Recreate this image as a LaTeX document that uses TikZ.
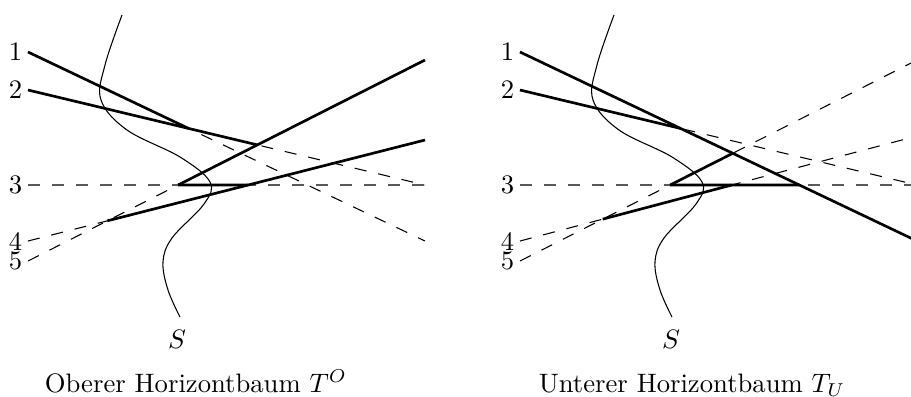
\documentclass[tikz,border=0pt]{standalone}
\usepackage{amsmath}
\usepackage{tikz}
\tikzstyle{treeline} = [line width=1pt]
\tikzstyle{pseudoline} = [line width=0.4pt, dash pattern=on 4.5pt off 4.5pt]
\tikzstyle{sweepline} = [line width=0.4pt]
\tikzstyle{lbl} = [left, inner xsep=2pt, inner ysep=0pt]

\begin{document}
\begin{tikzpicture}[x=0.375pt, y=-0.375pt]
    \useasboundingbox (0,0) rectangle (911,396);
    \clip (0,0) rectangle (911,396);

    % Oberer Horizontbaum
    \coordinate (oa1) at (28,52);  \coordinate (ob1) at (425,241);
    \coordinate (oa2) at (28,90);  \coordinate (ob2) at (425,185);
    \coordinate (oa3) at (28,185); \coordinate (ob3) at (425,185);
    \coordinate (oa4) at (28,241); \coordinate (ob4) at (425,140);
    \coordinate (oa5) at (28,261); \coordinate (ob5) at (425,60);
    \coordinate (ox12) at (intersection of oa1--ob1 and oa2--ob2);
    \coordinate (ox25) at (intersection of oa2--ob2 and oa5--ob5);
    \coordinate (ox35) at (intersection of oa3--ob3 and oa5--ob5);
    \coordinate (ox34) at (intersection of oa3--ob3 and oa4--ob4);
    \coordinate (ox45) at (intersection of oa4--ob4 and oa5--ob5);

    \node[lbl] (on1) at (oa1) {1};
    \node[lbl] (on2) at (oa2) {2};
    \node[lbl] (on3) at (oa3) {3};
    \node[lbl] (on4) at (oa4) {4};
    \node[lbl] (on5) at (oa5) {5};

    \draw[pseudoline] (oa1) -- (ob1);
    \draw[pseudoline] (oa2) -- (ob2);
    \draw[pseudoline, black!65] (oa3) -- (ob3);
    \draw[pseudoline] (oa4) -- (ob4);
    \draw[pseudoline] (oa5) -- (ob5);

    \draw[sweepline] plot[smooth, tension=0.6] coordinates {(122,15) (105,65) (101,100) (127,130) (180,157) (210,182) (204,204) (172,238) (163,262) (168,290) (180,317)};
    \node (os) at (177,339) {$S$};
    \node[anchor=base] (ocap) at (196,392) {Oberer Horizontbaum $T^O$};

    \draw[treeline] (oa1) -- (ox12);
    \draw[treeline] (oa2) -- (ox25);
    \draw[treeline] (ox35) -- (ox34);
    \draw[treeline] (ox45) -- (ob4);
    \draw[treeline] (ox35) -- (ob5);

    % Unterer Horizontbaum
    \begin{scope}[xshift=184.5pt]
    \coordinate (ua1) at (28,52);  \coordinate (ub1) at (425,241);
    \coordinate (ua2) at (28,90);  \coordinate (ub2) at (425,185);
    \coordinate (ua3) at (28,185); \coordinate (ub3) at (425,185);
    \coordinate (ua4) at (28,241); \coordinate (ub4) at (425,136);
    \coordinate (ua5) at (28,261); \coordinate (ub5) at (425,60);
    \coordinate (ux12) at (intersection of ua1--ub1 and ua2--ub2);
    \coordinate (ux13) at (intersection of ua1--ub1 and ua3--ub3);
    \coordinate (ux15) at (intersection of ua1--ub1 and ua5--ub5);
    \coordinate (ux35) at (intersection of ua3--ub3 and ua5--ub5);
    \coordinate (ux34) at (intersection of ua3--ub3 and ua4--ub4);
    \coordinate (ux45) at (intersection of ua4--ub4 and ua5--ub5);

    \node[lbl] (un1) at (ua1) {1};
    \node[lbl] (un2) at (ua2) {2};
    \node[lbl] (un3) at (ua3) {3};
    \node[lbl] (un4) at (ua4) {4};
    \node[lbl] (un5) at (ua5) {5};

    \draw[pseudoline] (ua1) -- (ub1);
    \draw[pseudoline] (ua2) -- (ub2);
    \draw[pseudoline, black!65] (ua3) -- (ub3);
    \draw[pseudoline] (ua4) -- (ub4);
    \draw[pseudoline] (ua5) -- (ub5);

    \draw[sweepline] plot[smooth, tension=0.6] coordinates {(122,15) (105,65) (101,100) (127,130) (180,157) (210,182) (204,204) (172,238) (163,262) (168,290) (180,317)};
    \node (us) at (179,339) {$S$};
    \node[anchor=base] (ucap) at (200,392) {Unterer Horizontbaum $T_U$};

    \draw[treeline] (ua1) -- (ub1);
    \draw[treeline] (ua2) -- (ux12);
    \draw[treeline] (ux35) -- (ux13);
    \draw[treeline] (ux45) -- (ux34);
    \draw[treeline] (ux35) -- (ux15);
    \end{scope}
\end{tikzpicture}
\end{document}
